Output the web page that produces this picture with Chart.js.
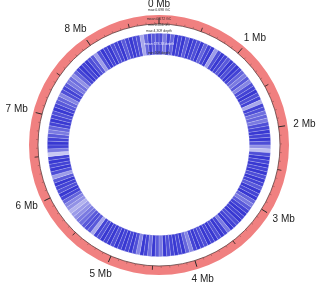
<!DOCTYPE html>
<html>
<head>
<meta charset="utf-8">
<script src="https://cdn.jsdelivr.net/npm/chart.js@4"></script>
<style>
html,body{margin:0;padding:0;background:#fff;}
#wrap{width:319px;height:291px;position:relative;}
</style>
</head>
<body>
<div id="wrap"><canvas id="c" width="319" height="291"></canvas></div>
<script>
// Genome length in Mb
const genomeLength = 8.85;
// Tick labels (Mb positions)
const tickPositions = [0, 1, 2, 3, 4, 5, 6, 7, 8];
const tickLabels = ['0 Mb', '1 Mb', '2 Mb', '3 Mb', '4 Mb', '5 Mb', '6 Mb', '7 Mb', '8 Mb'];
// GC track (single uniform band)
const gcValues = [1];
// Depth intensity per 2-degree bin (0 = white, 1 = full blue), clockwise from top
const depthBins = [
  0.8,0.6,0.85,0.7,0.9,
  0.85,0.9,0.75,0.9,0.85,0.8,0.9,0.7,0.85,0.9,
  0.45,0.8,
  0.9,0.85,0.75,0.9,0.8,0.9,0.85,0.7,
  0.6,0.75,0.55,0.8,0.85,
  0.9,0.8,0.85,0.4,0.85,
  0.8,0.65,0.7,0.6,0.8,0.85,0.9,
  0.85,0.9,0.8,0.5,0.3,0.8,0.9,0.85,
  0.9,0.85,0.9,0.8,0.9,0.85,0.75,0.9,0.85,0.9,
  0.7,0.6,0.75,0.85,0.9,
  0.85,0.9,0.8,0.85,0.9,0.6,0.85,0.9,0.8,0.9,
  0.85,0.9,0.8,0.85,0.9,0.85,0.55,0.7,0.9,0.85,
  0.9,0.85,0.8,0.9,0.6,0.75,0.9,0.65,0.85,0.9,
  0.55,0.8,0.9,0.85,0.9,
  0.85,0.9,0.8,0.9,0.85,0.9,0.8,0.85,
  0.4,0.75,
  0.8,0.75,0.65,0.6,0.5,0.45,0.35,0.5,0.55,0.7,
  0.85,0.9,0.8,0.85,0.9,
  0.75,0.45,0.8,
  0.9,0.85,0.9,0.85,
  0.25,0.6,0.85,
  0.9,0.85,0.75,0.6,0.7,0.85,0.9,0.85,0.8,0.9,
  0.85,0.75,0.7,0.55,0.8,
  0.85,0.75,0.6,0.65,0.5,0.7,0.85,0.9,
  0.85,0.9,0.8,0.75,0.45,0.8,0.9,
  0.85,0.9,0.8,0.85,0.9,0.75,0.85,0.9,0.85,0.8,
  0.4,0.7,0.85,0.75,0.8
];
// Track summary labels
const gcStats = ['max:0.698 GC', 'mean:0.672 GC', 'min:0.456 GC'];
const depthStats = ['max:4,309 depth', 'mean:178.33 depth', 'min:108 depth'];

function depthColor(v) {
  const r = Math.round(255 + (34 - 255) * v);
  const g = Math.round(255 + (34 - 255) * v);
  const b = Math.round(255 + (205 - 255) * v);
  return 'rgb(' + r + ',' + g + ',' + b + ')';
}

const decorPlugin = {
  id: 'decor',
  afterDatasetsDraw(chart) {
    const ctx = chart.ctx;
    const arc = chart.getDatasetMeta(0).data[0];
    const cx = arc.x, cy = arc.y;
    const rIn = arc.innerRadius, rOut = arc.outerRadius;
    const ang = p => -Math.PI / 2 + 2 * Math.PI * p / genomeLength;
    ctx.save();
    // baseline
    ctx.beginPath();
    ctx.arc(cx, cy, rIn, 0, Math.PI * 2);
    ctx.strokeStyle = '#5b3d3d';
    ctx.lineWidth = 0.8;
    ctx.stroke();
    // ticks
    const nMinor = Math.floor(genomeLength * 10);
    for (let k = 0; k <= nMinor; k++) {
      const p = k / 10;
      const a = ang(p);
      let len, col, lw;
      if (k % 10 === 0) { len = 6.5; col = '#2a2a2a'; lw = 1; }
      else if (k % 5 === 0) { len = 4; col = '#3a2a2a'; lw = 0.9; }
      else { len = 2; col = '#9a5a5a'; lw = 0.7; }
      ctx.beginPath();
      ctx.moveTo(cx + rIn * Math.cos(a), cy + rIn * Math.sin(a));
      ctx.lineTo(cx + (rIn + len) * Math.cos(a), cy + (rIn + len) * Math.sin(a));
      ctx.strokeStyle = col;
      ctx.lineWidth = lw;
      ctx.stroke();
    }
    // labels
    ctx.font = '10px "Liberation Sans", Arial, sans-serif';
    ctx.fillStyle = '#222';
    ctx.textAlign = 'center';
    ctx.textBaseline = 'middle';
    const rL = rOut + 6;
    tickPositions.forEach((p, i) => {
      const a = ang(p);
      const s = Math.cos(a), c = Math.sin(a);
      const w = ctx.measureText(tickLabels[i]).width;
      const x = cx + rL * s + s * w / 2;
      const y = cy + rL * c + c * 4.5;
      ctx.fillText(tickLabels[i], x, y);
    });
    // tiny stats labels
    ctx.font = '3.5px "Liberation Sans", Arial, sans-serif';
    const gcY = [cy - rOut - 5, cy - (rOut + rIn) / 2, cy - rIn + 1.5];
    gcStats.forEach((t, i) => { ctx.fillStyle = '#333'; ctx.fillText(t, cx, gcY[i]); });
    const dArc = chart.getDatasetMeta(2).data[0];
    const dY = [cy - dArc.outerRadius - 1.5, cy - (dArc.outerRadius + dArc.innerRadius) / 2, cy - dArc.innerRadius - 2];
    depthStats.forEach((t, i) => { ctx.fillStyle = i === 1 ? '#e8e8ff' : '#333'; ctx.fillText(t, cx, dY[i]); });
    ctx.restore();
  }
};

new Chart(document.getElementById('c'), {
  type: 'doughnut',
  data: {
    labels: depthBins.map((_, i) => 'bin' + i),
    datasets: [
      { data: gcValues, backgroundColor: ['#f08080'], borderWidth: 0, weight: 9 },
      { data: [1], backgroundColor: ['rgba(0,0,0,0)'], borderWidth: 0, weight: 9 },
      { data: depthBins.map(() => 1), backgroundColor: depthBins.map(depthColor), borderWidth: 0.5, borderColor: 'rgba(255,255,255,0.22)', borderAlign: 'inner', weight: 22 }
    ]
  },
  options: {
    responsive: false,
    animation: false,
    cutout: 90,
    layout: { padding: { left: 29, right: 30, top: 15, bottom: 16 } },
    events: [],
    plugins: { legend: { display: false }, tooltip: { enabled: false } }
  },
  plugins: [decorPlugin]
});
</script>
</body>
</html>
